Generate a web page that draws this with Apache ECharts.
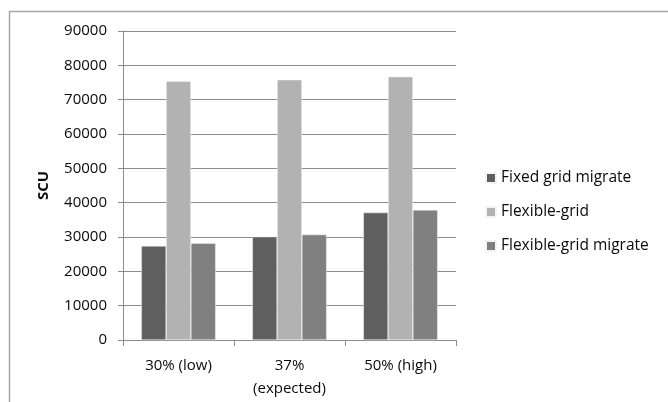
<!DOCTYPE html>
<html>
<head>
<meta charset="utf-8">
<script src="https://cdn.jsdelivr.net/npm/echarts@6/dist/echarts.min.js"></script>
<style>
  html, body { margin: 0; padding: 0; background: #fff; }
  #chart { width: 668px; height: 402px; }
</style>
</head>
<body>
<div id="chart"></div>
<script>
// Utilisation levels on the x axis
const categories = ['30% (low)', '37%\n(expected)', '50% (high)'];

// SCU per scheme
const fixedGridMigrate = [27400, 30100, 37100];
const flexibleGrid = [75400, 75800, 76700];
const flexibleGridMigrate = [28200, 30700, 37900];

const yTicks = { min: 0, max: 90000, interval: 10000 };

const font = '"Open Sans", "Noto Sans", sans-serif';
const textColor = '#0a0a0a';
const fontSize = 15;

const chart = echarts.init(document.getElementById('chart'), null, { renderer: 'canvas' });

const barStyle = (color) => ({ color: color, borderColor: '#f4f4f4', borderWidth: 0.5 });

chart.setOption({
  animation: false,
  backgroundColor: '#ffffff',
  graphic: [{
    type: 'rect',
    shape: { x: 9.5, y: 11.5, width: 700, height: 500 },
    style: { fill: 'none', stroke: '#a6a6a6', lineWidth: 1.5 },
    silent: true
  }],
  grid: { left: 123, top: 31, width: 333, height: 309, containLabel: false },
  legend: {
    orient: 'vertical',
    left: 485,
    top: 170,
    padding: 0,
    itemWidth: 10,
    itemHeight: 10,
    itemGap: 18,
    icon: 'rect',
    textStyle: { fontFamily: font, fontSize: 15.5, color: textColor },
    data: ['Fixed grid migrate', 'Flexible-grid', 'Flexible-grid migrate']
  },
  xAxis: {
    type: 'category',
    data: categories,
    axisLine: { lineStyle: { color: '#8c8c8c', width: 1 } },
    axisTick: { show: true, length: 6, lineStyle: { color: '#8c8c8c' } },
    axisLabel: { fontFamily: font, fontSize: fontSize, color: textColor, margin: 14, lineHeight: 23 },
    splitLine: { show: false }
  },
  yAxis: {
    type: 'value',
    min: yTicks.min,
    max: yTicks.max,
    interval: yTicks.interval,
    name: 'SCU',
    nameLocation: 'middle',
    nameGap: 72,
    nameRotate: 90,
    nameTextStyle: { fontFamily: font, fontSize: fontSize, fontWeight: 'bold', color: textColor },
    axisLine: { show: true, lineStyle: { color: '#8c8c8c', width: 1 } },
    axisTick: { show: true, length: 5, lineStyle: { color: '#8c8c8c' } },
    axisLabel: { fontFamily: font, fontSize: fontSize, color: textColor, margin: 16, formatter: (v) => String(v) },
    splitLine: { show: true, lineStyle: { color: '#8c8c8c', width: 1 } }
  },
  series: [
    {
      name: 'Fixed grid migrate', type: 'bar', data: fixedGridMigrate,
      itemStyle: barStyle('#5f5f5f'), barGap: '0%', barCategoryGap: '33%'
    },
    {
      name: 'Flexible-grid', type: 'bar', data: flexibleGrid,
      itemStyle: barStyle('#b2b2b2'), barGap: '0%', barCategoryGap: '33%'
    },
    {
      name: 'Flexible-grid migrate', type: 'bar', data: flexibleGridMigrate,
      itemStyle: barStyle('#808080'), barGap: '0%', barCategoryGap: '33%'
    }
  ]
});
</script>
</body>
</html>
